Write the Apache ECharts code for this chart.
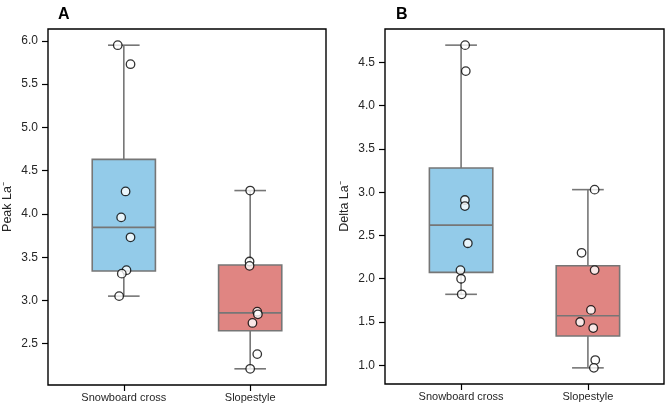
<!DOCTYPE html>
<html><head><meta charset="utf-8">
<script src="https://cdn.jsdelivr.net/npm/echarts@6/dist/echarts.min.js"></script>
<style>html,body{margin:0;padding:0;background:#fff}#c{width:666px;height:410px}</style>
</head><body><div id="c"></div>
<script>
const categories = ['Snowboard cross', 'Slopestyle'];
const panelTitles = ['A', 'B'];
const yNames = ['Peak La\u207B', 'Delta La\u207B'];
// box stats: [min, Q1, median, Q3, max]
const peakBoxSnowboard = [3.05, 3.34, 3.845, 4.63, 5.95];
const peakBoxSlope = [2.21, 2.65, 2.857, 3.41, 4.27];
const deltaBoxSnowboard = [1.82, 2.074, 2.62, 3.28, 4.70];
const deltaBoxSlope = [0.97, 1.338, 1.573, 2.15, 3.03];
// individual points
const peakPtsSnowboard = [5.95, 5.73, 4.26, 3.96, 3.73, 3.35, 3.31, 3.05];
const peakJitSnowboard = [-0.048, 0.053, 0.014, -0.021, 0.053, 0.021, -0.016, -0.037];
const peakPtsSlope = [4.27, 3.45, 3.40, 2.87, 2.84, 2.74, 2.38, 2.21];
const peakJitSlope = [0.0, -0.005, -0.005, 0.056, 0.061, 0.018, 0.056, 0.0];
const deltaPtsSnowboard = [4.70, 4.40, 2.91, 2.84, 2.41, 2.10, 2.00, 1.82];
const deltaJitSnowboard = [0.032, 0.037, 0.030, 0.030, 0.053, -0.005, 0.0, 0.005];
const deltaPtsSlope = [3.03, 2.30, 2.10, 1.64, 1.50, 1.43, 1.06, 0.97];
const deltaJitSlope = [0.053, -0.05, 0.053, 0.024, -0.061, 0.042, 0.058, 0.047];
const peakTicks = [2.5, 3.0, 3.5, 4.0, 4.5, 5.0, 5.5, 6.0];
const deltaTicks = [1.0, 1.5, 2.0, 2.5, 3.0, 3.5, 4.0, 4.5];
const peakRange = [2.023, 6.137];
const deltaRange = [0.7835, 4.8865];

const boxColors = ['#93CBE9', '#E08582'];
const FONT = 'Liberation Sans, Arial, sans-serif';
const chart = echarts.init(document.getElementById('c'), null, {renderer: 'canvas'});

function boxData(boxes) {
  return boxes.map((b, i) => [i].concat(b));
}
function ptsData(pts, jit, cat) {
  return pts.map((v, i) => [cat + jit[i], v]);
}
function renderBox(params, api) {
  const x = api.value(0);
  const mn = api.coord([x, api.value(1)]);
  const q1 = api.coord([x, api.value(2)]);
  const md = api.coord([x, api.value(3)]);
  const q3 = api.coord([x, api.value(4)]);
  const mx = api.coord([x, api.value(5)]);
  const hw = api.size([0.25, 0])[0];
  const cw = api.size([0.125, 0])[0];
  const color = boxColors[params.dataIndex];
  const ls = {stroke: '#767676', lineWidth: 1.6};
  return {type: 'group', children: [
    {type: 'line', shape: {x1: mx[0], y1: mx[1], x2: q3[0], y2: q3[1]}, style: ls},
    {type: 'line', shape: {x1: mn[0], y1: mn[1], x2: q1[0], y2: q1[1]}, style: ls},
    {type: 'line', shape: {x1: mx[0] - cw, y1: mx[1], x2: mx[0] + cw, y2: mx[1]}, style: ls},
    {type: 'line', shape: {x1: mn[0] - cw, y1: mn[1], x2: mn[0] + cw, y2: mn[1]}, style: ls},
    {type: 'rect', shape: {x: q3[0] - hw, y: q3[1], width: 2 * hw, height: q1[1] - q3[1]},
      style: {fill: color, stroke: '#767676', lineWidth: 1.6}},
    {type: 'line', shape: {x1: md[0] - hw, y1: md[1], x2: md[0] + hw, y2: md[1]}, style: ls}
  ]};
}

function xAxis(gi) {
  return {
    type: 'value', gridIndex: gi, min: -0.6, max: 1.6, position: 'bottom',
    splitLine: {show: false}, axisLine: {show: false, onZero: false},
    axisTick: {show: true, length: 6, customValues: [0, 1], lineStyle: {color: '#000', width: 1.2}},
    axisLabel: {customValues: [0, 1], formatter: v => categories[Math.round(v)],
      color: '#262626', fontSize: 11, fontFamily: FONT, margin: 7}
  };
}
function yAxis(gi, range, ticks, name) {
  return {
    type: 'value', gridIndex: gi, min: range[0], max: range[1], position: 'left',
    name: name, nameLocation: 'middle', nameGap: 34, nameRotate: 90,
    nameTextStyle: {color: '#262626', fontSize: 12.5, fontFamily: FONT},
    splitLine: {show: false}, axisLine: {show: false, onZero: false},
    axisTick: {show: true, length: 6, customValues: ticks, lineStyle: {color: '#000', width: 1.2}},
    axisLabel: {customValues: ticks, formatter: v => v.toFixed(1),
      color: '#262626', fontSize: 12, fontFamily: FONT, margin: 10}
  };
}
const scatterStyle = {color: '#fff', borderColor: '#000', borderWidth: 1.3};

chart.setOption({
  animation: false,
  backgroundColor: '#fff',
  title: [
    {text: panelTitles[0], left: 53, top: 2, textStyle: {fontSize: 16, fontWeight: 'bold', color: '#000', fontFamily: FONT}},
    {text: panelTitles[1], left: 391, top: 2, textStyle: {fontSize: 16, fontWeight: 'bold', color: '#000', fontFamily: FONT}}
  ],
  grid: [
    {left: 48, right: 340, top: 29, bottom: 25, show: true, borderColor: '#000', borderWidth: 1.4, backgroundColor: 'transparent'},
    {left: 385, right: 2, top: 29, bottom: 26, show: true, borderColor: '#000', borderWidth: 1.4, backgroundColor: 'transparent'}
  ],
  xAxis: [xAxis(0), xAxis(1)],
  yAxis: [yAxis(0, peakRange, peakTicks, yNames[0]), yAxis(1, deltaRange, deltaTicks, yNames[1])],
  series: [
    {type: 'custom', xAxisIndex: 0, yAxisIndex: 0, renderItem: renderBox,
      data: boxData([peakBoxSnowboard, peakBoxSlope]), z: 2},
    {type: 'custom', xAxisIndex: 1, yAxisIndex: 1, renderItem: renderBox,
      data: boxData([deltaBoxSnowboard, deltaBoxSlope]), z: 2},
    {type: 'scatter', xAxisIndex: 0, yAxisIndex: 0, symbolSize: 8.5, itemStyle: scatterStyle, z: 5,
      data: ptsData(peakPtsSnowboard, peakJitSnowboard, 0).concat(ptsData(peakPtsSlope, peakJitSlope, 1))},
    {type: 'scatter', xAxisIndex: 1, yAxisIndex: 1, symbolSize: 8.5, itemStyle: scatterStyle, z: 5,
      data: ptsData(deltaPtsSnowboard, deltaJitSnowboard, 0).concat(ptsData(deltaPtsSlope, deltaJitSlope, 1))}
  ]
});
</script></body></html>
